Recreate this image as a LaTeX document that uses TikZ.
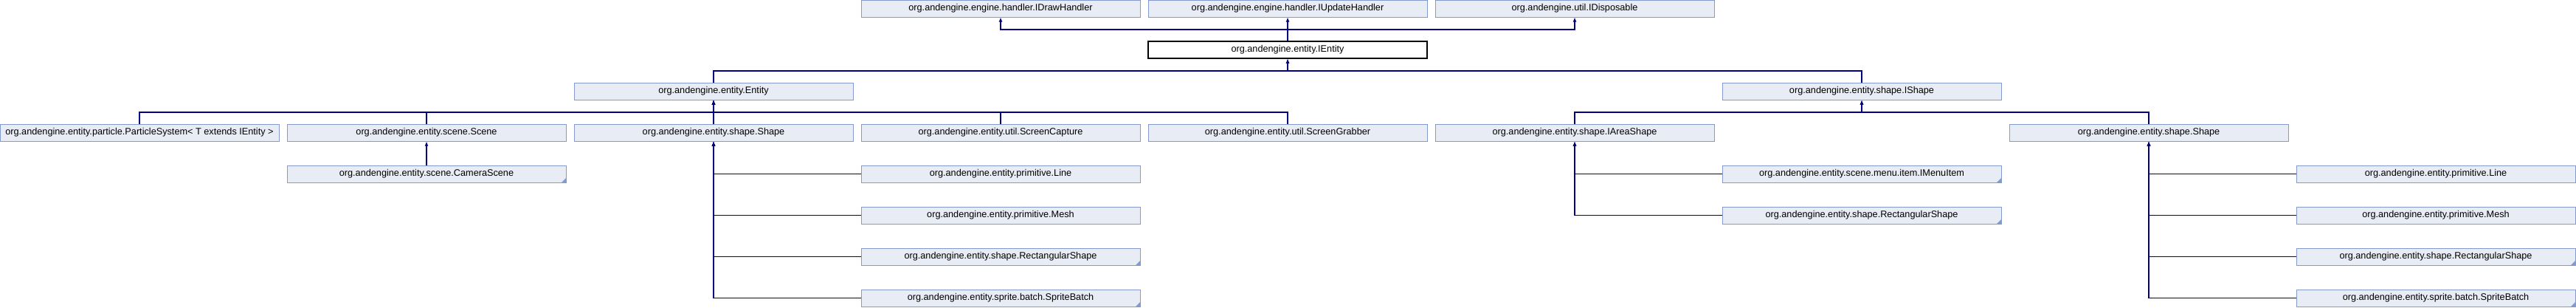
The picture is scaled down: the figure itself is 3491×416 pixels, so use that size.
\documentclass[tikz,border=0pt]{standalone}
\usepackage{fontspec}
\setmainfont{Liberation Sans}
\usetikzlibrary{arrows.meta}
\definecolor{boxfill}{RGB}{232,236,244}
\definecolor{boxdraw}{RGB}{132,154,206}
\definecolor{edgecol}{RGB}{0,0,128}
\begin{document}
\begin{tikzpicture}[x=1pt, y=-1pt,
  cls/.style={draw=boxdraw, fill=boxfill, line width=1pt, minimum width=378pt, minimum height=23pt, inner sep=0pt, font=\fontsize{12.7}{14}\selectfont},
  cur/.style={cls, draw=black, fill=white, line width=1.4pt},
  more/.style={cls, path picture={\fill[boxdraw] (path picture bounding box.south east) -- ++(-6,0) -- ++(6,-6) -- cycle;}},
  inh/.style={draw=edgecol, line width=1.3pt, -{Latex[length=6pt,width=5pt]}}]
\useasboundingbox (0,0) rectangle (3491,416);
\node[cls] (idraw) at (1356,11.5) {org.andengine.engine.handler.IDrawHandler};
\node[cls] (iupdate) at (1745,11.5) {org.andengine.engine.handler.IUpdateHandler};
\node[cls] (idisp) at (2134,11.5) {org.andengine.util.IDisposable};
\node[cur] (ientity) at (1745,67.5) {org.andengine.entity.IEntity};
\node[cls] (entity) at (967,123.5) {org.andengine.entity.Entity};
\node[cls] (ishape) at (2523,123.5) {org.andengine.entity.shape.IShape};
\node[cls] (particle) at (189,179.5) {org.andengine.entity.particle.ParticleSystem< T extends IEntity >};
\node[cls] (scene) at (578,179.5) {org.andengine.entity.scene.Scene};
\node[cls] (shape) at (967,179.5) {org.andengine.entity.shape.Shape};
\node[cls] (capture) at (1356,179.5) {org.andengine.entity.util.ScreenCapture};
\node[cls] (grabber) at (1745,179.5) {org.andengine.entity.util.ScreenGrabber};
\node[cls] (iarea) at (2134,179.5) {org.andengine.entity.shape.IAreaShape};
\node[cls] (shapeb) at (2912,179.5) {org.andengine.entity.shape.Shape};
\node[more] (camera) at (578,235.5) {org.andengine.entity.scene.CameraScene};
\node[cls] (line) at (1356,235.5) {org.andengine.entity.primitive.Line};
\node[cls] (mesh) at (1356,291.5) {org.andengine.entity.primitive.Mesh};
\node[more] (rect) at (1356,347.5) {org.andengine.entity.shape.RectangularShape};
\node[more] (batch) at (1356,403.5) {org.andengine.entity.sprite.batch.SpriteBatch};
\node[more] (imenu) at (2523,235.5) {org.andengine.entity.scene.menu.item.IMenuItem};
\node[more] (rectb) at (2523,291.5) {org.andengine.entity.shape.RectangularShape};
\node[cls] (lineb) at (3301,235.5) {org.andengine.entity.primitive.Line};
\node[cls] (meshb) at (3301,291.5) {org.andengine.entity.primitive.Mesh};
\node[more] (rectc) at (3301,347.5) {org.andengine.entity.shape.RectangularShape};
\node[more] (batchb) at (3301,403.5) {org.andengine.entity.sprite.batch.SpriteBatch};
\coordinate (bus0) at (1745,40);
\coordinate (bus1) at (1745,96);
\coordinate (bus2) at (967,152);
\coordinate (bus3) at (2523,152);
\draw[inh] (ientity.north) -- (bus0) -| (idraw.south);
\draw[inh] (ientity.north) -- (iupdate.south);
\draw[inh] (ientity.north) -- (bus0) -| (idisp.south);
\draw[inh] (entity.north) |- (bus1) -- (ientity.south);
\draw[inh] (ishape.north) |- (bus1) -- (ientity.south);
\draw[inh] (particle.north) |- (bus2) -- (entity.south);
\draw[inh] (scene.north) |- (bus2) -- (entity.south);
\draw[inh] (shape.north) -- (entity.south);
\draw[inh] (capture.north) |- (bus2) -- (entity.south);
\draw[inh] (grabber.north) |- (bus2) -- (entity.south);
\draw[inh] (iarea.north) |- (bus3) -- (ishape.south);
\draw[inh] (shapeb.north) |- (bus3) -- (ishape.south);
\draw[inh] (camera.north) -- (scene.south);
\draw[inh] (line.west) -| (shape.south);
\draw[inh] (mesh.west) -| (shape.south);
\draw[inh] (rect.west) -| (shape.south);
\draw[inh] (batch.west) -| (shape.south);
\draw[inh] (imenu.west) -| (iarea.south);
\draw[inh] (rectb.west) -| (iarea.south);
\draw[inh] (lineb.west) -| (shapeb.south);
\draw[inh] (meshb.west) -| (shapeb.south);
\draw[inh] (rectc.west) -| (shapeb.south);
\draw[inh] (batchb.west) -| (shapeb.south);
\end{tikzpicture}
\end{document}
